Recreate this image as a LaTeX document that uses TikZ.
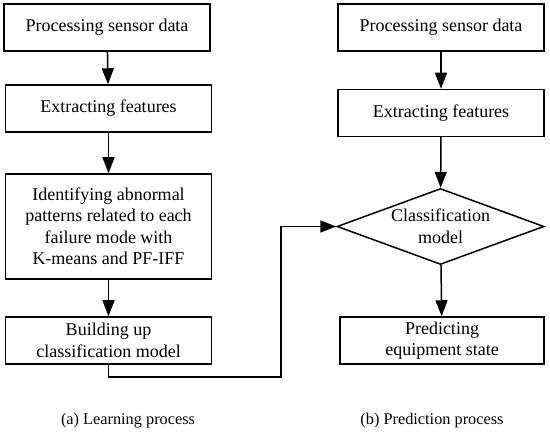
\documentclass[tikz,border=0pt]{standalone}
\usepackage{fontspec}
\setmainfont{Liberation Serif}
\usetikzlibrary{shapes.geometric,arrows.meta}
\begin{document}
\begin{tikzpicture}[x=1pt,y=-1pt,
  box/.style={draw,line width=1.5pt,minimum width=206pt,inner sep=0pt,align=center,
    font=\fontsize{18}{21.5}\selectfont},
  dia/.style={draw,line width=1.5pt,diamond,aspect=2.72,minimum width=207pt,minimum height=76pt,
    inner sep=0pt,align=center,font=\fontsize{18}{21.5}\selectfont},
  conn/.style={draw,line width=1.5pt,-{Triangle[length=16pt,width=12pt]}},
  captext/.style={font=\fontsize{16.3}{19}\selectfont}]
\useasboundingbox (0,0) rectangle (550,435);
\node[box,minimum height=47pt] (l1) at (107,27.5) {Processing sensor data};
\node[box,minimum height=47pt] (l2) at (108.5,108.5) {Extracting features};
\node[box,minimum height=105pt] (l3) at (108.5,226.5) {Identifying abnormal\\patterns related to each\\failure mode with\\K-means and PF-IFF};
\node[box,minimum height=47pt] (l4) at (108.5,340.5) {Building up\\classification model};
\node[box,minimum height=47pt] (r1) at (441,27.5) {Processing sensor data};
\node[box,minimum height=47pt] (r2) at (441,113) {Extracting features};
\node[dia] (r3) at (440.5,226.5) {Classification\\model};
\node[box,minimum height=47pt,minimum width=204pt] (r4) at (442,340.5) {Predicting\\equipment state};
\coordinate (c1) at (108.5,377);
\coordinate (c2) at (281,377);
\coordinate (c3) at (281,226.5);
\draw[conn] (l1) -- (l2);
\draw[conn] (l2) -- (l3);
\draw[conn] (l3) -- (l4);
\draw[conn] (r1) -- (r2);
\draw[conn] (r2) -- (r3);
\draw[conn] (r3) -- (r4);
\draw[conn] (l4.south) -- (c1) -- (c2) -- (c3) -- (r3.west);
\node[captext] (ca) at (128,421) {(a) Learning process};
\node[captext] (cb) at (432,421) {(b) Prediction process};
\end{tikzpicture}
\end{document}
